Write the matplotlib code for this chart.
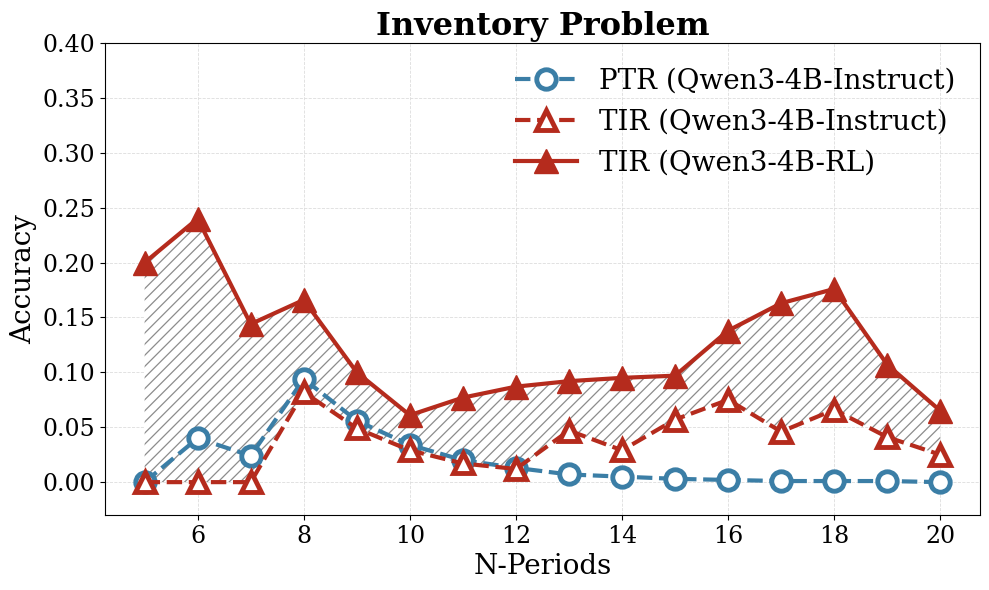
import numpy as np
import matplotlib
matplotlib.use('Agg')
import matplotlib.pyplot as plt

n_periods = [5, 6, 7, 8, 9, 10, 11, 12, 13, 14, 15, 16, 17, 18, 19, 20]
ptr_instruct = [0.000, 0.040, 0.024, 0.094, 0.056, 0.034, 0.020, 0.013, 0.007,
                0.005, 0.003, 0.002, 0.001, 0.001, 0.001, 0.000]
tir_instruct = [0.000, 0.000, 0.000, 0.082, 0.049, 0.029, 0.017, 0.012, 0.047,
                0.029, 0.057, 0.075, 0.046, 0.066, 0.041, 0.025]
tir_rl = [0.200, 0.240, 0.144, 0.166, 0.100, 0.061, 0.077, 0.087, 0.092,
          0.095, 0.097, 0.138, 0.163, 0.176, 0.107, 0.065]
labels = ['PTR (Qwen3-4B-Instruct)', 'TIR (Qwen3-4B-Instruct)', 'TIR (Qwen3-4B-RL)']

blue = '#3b7ea6'
red = '#b52b1d'
plt.rcParams['font.family'] = 'DejaVu Serif'
plt.rcParams['hatch.color'] = '#8c8c8c'
plt.rcParams['hatch.linewidth'] = 0.9

fig, ax = plt.subplots(figsize=(9.89, 5.90), dpi=100)
ax.fill_between(n_periods, tir_instruct, tir_rl, facecolor='white', hatch='///',
                edgecolor='#8c8c8c', linewidth=0, zorder=1)
ax.plot(n_periods, ptr_instruct, color=blue, linestyle='--', linewidth=3,
        marker='o', markersize=14, markerfacecolor='white', markeredgewidth=3.5,
        label=labels[0], zorder=3)
ax.plot(n_periods, tir_instruct, color=red, linestyle='--', linewidth=3,
        marker='^', markersize=15, markerfacecolor='white', markeredgewidth=3.5,
        label=labels[1], zorder=4)
ax.plot(n_periods, tir_rl, color=red, linestyle='-', linewidth=3,
        marker='^', markersize=17, label=labels[2], zorder=5)

ax.set_title('Inventory Problem', fontsize=23, fontweight='bold', pad=6)
ax.set_xlabel('N-Periods', fontsize=20)
ax.set_ylabel('Accuracy', fontsize=20)
ax.set_xticks([6, 8, 10, 12, 14, 16, 18, 20])
ax.set_yticks(np.arange(0, 0.401, 0.05))
ax.set_yticklabels(['%.2f' % v for v in np.arange(0, 0.401, 0.05)])
ax.tick_params(labelsize=17)
ax.set_xlim(4.25, 20.75)
ax.set_ylim(-0.03, 0.40)
ax.grid(True, linestyle='--', linewidth=0.6, color='#dddddd', zorder=0)
ax.set_axisbelow(True)
ax.legend(fontsize=20, frameon=False, loc='upper right', handlelength=2.2)

fig.subplots_adjust(left=0.106, right=0.991, top=0.927, bottom=0.127)
fig.savefig('out.png', dpi=100)
